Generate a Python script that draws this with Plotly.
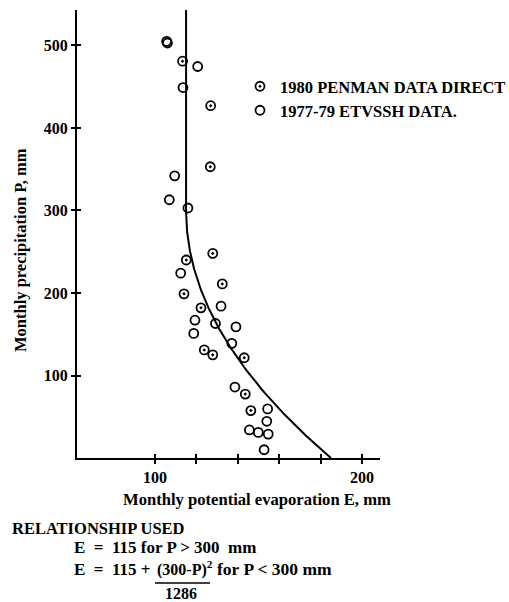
import numpy as np
import plotly.graph_objects as go

# 1980 Penman data, direct (E = monthly potential evaporation, P = monthly precipitation), mm
penman_E = [113.3, 126.9, 126.7, 127.9, 115.1, 132.5, 114.0, 122.2, 123.8, 127.9, 143.1, 143.6, 146.3]
penman_P = [481, 427, 353, 248, 240, 211, 199, 182, 131, 125, 121.5, 77.5, 57.5]

# 1977-79 ETVSSH data, mm
etvssh_E = [105.6, 106.0, 120.6, 113.5, 109.5, 106.9, 115.9, 112.4, 131.9, 119.3, 129.2,
            139.1, 118.7, 137.1, 138.6, 154.4, 154.0, 145.6, 149.9, 154.7, 152.7]
etvssh_P = [505, 503, 474.5, 449, 342, 313, 303, 224, 184, 167, 163,
            159, 151, 139, 86, 59.5, 44.5, 34, 31, 29, 10]

# Relationship used: E = 115 for P > 300; E = 115 + (300-P)^2/1286 for P < 300
E_BASE = 115
P_BREAK = 300
DIVISOR = 1286
P_TOP = 545

x_label_vals = [100, 200]
x_minor_vals = [120, 140, 160, 180]
x_all_ticks = [100, 120, 140, 160, 180, 200]
y_tick_vals = [100, 200, 300, 400, 500]
y_tick_text = ["100", "200", "300", "400", "500"]

X_RANGE = [62.3, 208.7]
Y_RANGE = [0, 543]

SERIF = "Liberation Serif, Times New Roman, serif"

P_curve = np.linspace(0, P_TOP, 400)
E_curve = np.where(P_curve > P_BREAK, E_BASE, E_BASE + (P_BREAK - P_curve) ** 2 / DIVISOR)

# plot-area geometry in pixels (used to place the free text)
W, H = 509, 602
L, R, T, B = 77, 129, 10, 144
PW, PH = W - L - R, H - T - B


def px(x):
    return (x - L) / PW


def py(y):
    return (H - B - y) / PH


def tfont(size):
    return dict(family=SERIF, size=size, color="black", weight="bold")


fig = go.Figure()

fig.add_trace(go.Scatter(
    x=E_curve, y=P_curve, mode="lines",
    line=dict(color="black", width=2),
    showlegend=False, hoverinfo="skip",
))

fig.add_trace(go.Scatter(
    x=penman_E, y=penman_P, mode="markers",
    name="1980 PENMAN DATA DIRECT",
    marker=dict(symbol="circle-open-dot", size=9, color="black",
                line=dict(color="black", width=1.8)),
    legend="legend",
))

fig.add_trace(go.Scatter(
    x=etvssh_E, y=etvssh_P, mode="markers",
    name="1977-79 ETVSSH DATA.",
    marker=dict(symbol="circle-open", size=9, color="black",
                line=dict(color="black", width=1.8)),
    legend="legend2",
))

# empty trace carrying the overlay axes used for the inner half of each tick
fig.add_trace(go.Scatter(x=[], y=[], xaxis="x2", yaxis="y2",
                         showlegend=False, hoverinfo="skip"))

tick_style = dict(ticklen=4, tickwidth=1.5, tickcolor="black")

fig.update_layout(
    width=W, height=H,
    margin=dict(l=L, r=R, t=T, b=B, pad=0, autoexpand=False),
    paper_bgcolor="white", plot_bgcolor="white",
    font=dict(family=SERIF, color="black"),
    xaxis=dict(range=X_RANGE, showline=True, linecolor="black", linewidth=2,
               ticks="outside", **tick_style,
               tickvals=x_label_vals, ticktext=[str(v) for v in x_label_vals],
               tickfont=tfont(16),
               minor=dict(tickvals=x_minor_vals, ticks="outside", **tick_style),
               showgrid=False, zeroline=False, fixedrange=True, automargin=False),
    yaxis=dict(range=Y_RANGE, showline=True, linecolor="black", linewidth=2,
               ticks="outside", **tick_style,
               tickvals=y_tick_vals, ticktext=y_tick_text, tickfont=tfont(16),
               showgrid=False, zeroline=False, fixedrange=True, automargin=False),
    xaxis2=dict(range=X_RANGE, overlaying="x", anchor="y2", side="bottom",
                ticks="inside", **tick_style,
                tickvals=x_all_ticks, showticklabels=False,
                showline=False, showgrid=False, zeroline=False),
    yaxis2=dict(range=Y_RANGE, overlaying="y", anchor="x2", side="left",
                ticks="inside", **tick_style,
                tickvals=y_tick_vals, showticklabels=False,
                showline=False, showgrid=False, zeroline=False),
    legend=dict(x=px(240), y=py(69), xanchor="left", yanchor="top",
                bgcolor="rgba(0,0,0,0)", font=tfont(16.5)),
    legend2=dict(x=px(240), y=py(93), xanchor="left", yanchor="top",
                 bgcolor="rgba(0,0,0,0)", font=tfont(16.5)),
)

annotations = [
    dict(text="Monthly potential evaporation E, mm", x=px(257), y=py(499),
         xanchor="center", yanchor="middle", font=tfont(16.6)),
    dict(text="Monthly precipitation P, mm", x=px(20), y=py(250), textangle=-90,
         xanchor="center", yanchor="middle", font=tfont(16.5)),
    dict(text="RELATIONSHIP USED", x=px(10), y=py(528), xanchor="left", yanchor="middle",
         font=tfont(16.5)),
    dict(text="E  =  115 for P &gt; 300  mm", x=px(72), y=py(547),
         xanchor="left", yanchor="middle", font=tfont(17)),
    dict(text="E  =  115 +", x=px(72), y=py(569), xanchor="left", yanchor="middle",
         font=tfont(17)),
    dict(text="(300-P)<sup>2</sup>", x=px(155), y=py(568), xanchor="left", yanchor="middle",
         font=tfont(16)),
    dict(text="1286", x=px(181), y=py(593), xanchor="center", yanchor="middle",
         font=tfont(16)),
    dict(text="for P &lt; 300 mm", x=px(215), y=py(569), xanchor="left", yanchor="middle",
         font=tfont(17.5)),
]
for a in annotations:
    a.update(xref="paper", yref="paper", showarrow=False)
fig.update_layout(annotations=annotations)

# fraction bar of the relationship
fig.add_shape(type="line", xref="paper", yref="paper",
              x0=px(155), x1=px(210), y0=py(583), y1=py(583),
              line=dict(color="black", width=1.3))

fig.write_html("out.html")
